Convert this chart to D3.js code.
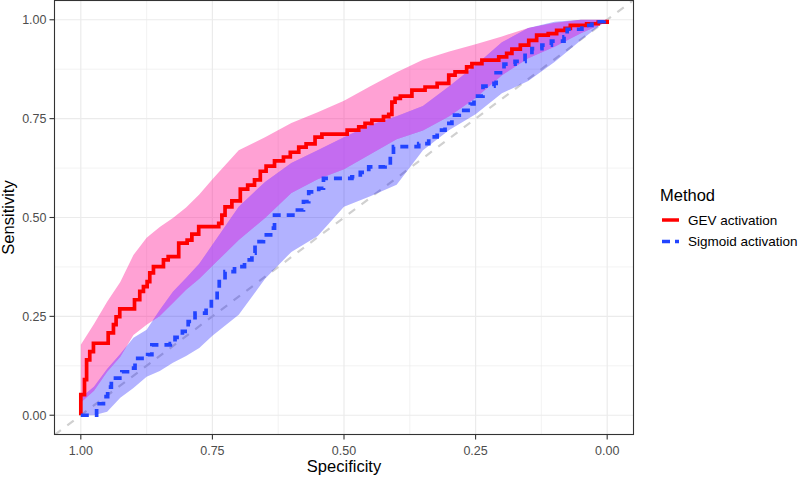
<!DOCTYPE html>
<html><head><meta charset="utf-8">
<script src="https://cdn.jsdelivr.net/npm/d3@7"></script>
<style>body{margin:0;background:#fff}svg{display:block}</style>
</head><body>
<svg id="c" width="808" height="477"></svg>
<script>
// ---------- data ----------
const methods = ["GEV activation", "Sigmoid activation"];
const axisTicks = [0, 0.25, 0.5, 0.75, 1];
const minorTicks = [0.125, 0.375, 0.625, 0.875];

// ROC step curves: [specificity, sensitivity]
const gevRoc = [[1,0],[1,0.052],[0.993,0.090],[0.989,0.140],[0.983,0.161],[0.976,0.182],[0.948,0.208],[0.938,0.229],[0.933,0.249],[0.926,0.269],[0.898,0.292],[0.888,0.313],[0.881,0.325],[0.874,0.338],[0.869,0.360],[0.862,0.376],[0.843,0.393],[0.834,0.401],[0.814,0.435],[0.798,0.443],[0.789,0.458],[0.776,0.477],[0.738,0.485],[0.732,0.506],[0.726,0.527],[0.713,0.542],[0.697,0.572],[0.683,0.582],[0.670,0.595],[0.659,0.617],[0.648,0.630],[0.632,0.643],[0.615,0.653],[0.602,0.665],[0.586,0.678],[0.572,0.686],[0.555,0.703],[0.542,0.711],[0.494,0.721],[0.472,0.729],[0.460,0.738],[0.447,0.746],[0.425,0.755],[0.415,0.761],[0.409,0.792],[0.403,0.801],[0.393,0.807],[0.371,0.822],[0.346,0.830],[0.323,0.839],[0.301,0.860],[0.289,0.868],[0.267,0.881],[0.257,0.889],[0.238,0.898],[0.206,0.906],[0.191,0.915],[0.181,0.926],[0.165,0.936],[0.149,0.948],[0.134,0.961],[0.112,0.965],[0.096,0.973],[0.080,0.978],[0.070,0.986],[0.039,0.990],[0.017,0.994],[0,1]];
const sigRoc = [[1,0],[0.982,0],[0.970,0.029],[0.957,0.047],[0.949,0.071],[0.942,0.094],[0.922,0.110],[0.906,0.119],[0.897,0.144],[0.873,0.153],[0.865,0.178],[0.830,0.181],[0.821,0.197],[0.807,0.212],[0.796,0.237],[0.783,0.258],[0.762,0.271],[0.752,0.292],[0.741,0.313],[0.737,0.338],[0.726,0.363],[0.708,0.376],[0.689,0.393],[0.675,0.410],[0.669,0.439],[0.653,0.456],[0.634,0.473],[0.632,0.506],[0.593,0.519],[0.577,0.540],[0.567,0.565],[0.548,0.574],[0.539,0.599],[0.485,0.603],[0.469,0.614],[0.453,0.628],[0.422,0.633],[0.412,0.649],[0.406,0.679],[0.358,0.687],[0.339,0.704],[0.323,0.721],[0.308,0.738],[0.295,0.759],[0.281,0.771],[0.260,0.787],[0.253,0.807],[0.236,0.832],[0.215,0.839],[0.211,0.866],[0.196,0.888],[0.175,0.895],[0.156,0.910],[0.143,0.927],[0.124,0.936],[0.106,0.946],[0.082,0.957],[0.076,0.976],[0.048,0.986],[0.029,0.995],[0.006,1],[0,1]];

// confidence bands of sensitivity at fixed specificities
const bandSpec = [1,0.975,0.95,0.925,0.9,0.875,0.85,0.825,0.8,0.775,0.75,0.7,0.65,0.6,0.55,0.5,0.45,0.4,0.35,0.3,0.25,0.2,0.15,0.1,0.05,0];
const gevLo = [0.032,0.062,0.110,0.148,0.203,0.229,0.251,0.284,0.317,0.345,0.378,0.443,0.499,0.562,0.597,0.622,0.660,0.698,0.720,0.756,0.802,0.860,0.903,0.932,0.966,0.995];
const gevHi = [0.178,0.231,0.287,0.337,0.405,0.449,0.476,0.499,0.525,0.558,0.597,0.670,0.703,0.739,0.766,0.795,0.832,0.867,0.899,0.920,0.938,0.958,0.979,0.992,1,1];
const sigLo = [0,0,0.009,0.044,0.069,0.097,0.112,0.133,0.150,0.170,0.201,0.254,0.345,0.413,0.453,0.527,0.554,0.583,0.670,0.721,0.761,0.814,0.845,0.893,0.948,1];
const sigHi = [0.044,0.072,0.117,0.155,0.196,0.216,0.266,0.312,0.347,0.383,0.431,0.527,0.590,0.638,0.670,0.703,0.734,0.756,0.782,0.832,0.885,0.943,0.979,0.995,1,1];

// ---------- layout ----------
const FONT = "'Liberation Sans', Arial, Helvetica, sans-serif";
const P = {l:54.5, r:633.5, t:0.5, b:434.5};
const x = d3.scaleLinear().domain([1.05,-0.05]).range([P.l, P.r]);
const y = d3.scaleLinear().domain([-0.05,1.05]).range([P.b+0.5, P.t-0.5]);
const fmt = d3.format(".2f");

const svg = d3.select("#c");
svg.append("rect").attr("width",808).attr("height",477).attr("fill","#fff");
const defs = svg.append("defs");
defs.append("clipPath").attr("id","clip")
  .append("rect").attr("x",P.l).attr("y",P.t).attr("width",P.r-P.l).attr("height",P.b-P.t);

const panel = svg.append("g");
minorTicks.forEach(v=>{
  panel.append("line").attr("x1",x(v)).attr("x2",x(v)).attr("y1",P.t).attr("y2",P.b).attr("stroke","#ebebeb").attr("stroke-width",0.6);
  panel.append("line").attr("y1",y(v)).attr("y2",y(v)).attr("x1",P.l).attr("x2",P.r).attr("stroke","#ebebeb").attr("stroke-width",0.6);
});
axisTicks.forEach(v=>{
  panel.append("line").attr("x1",x(v)).attr("x2",x(v)).attr("y1",P.t).attr("y2",P.b).attr("stroke","#ebebeb").attr("stroke-width",1.2);
  panel.append("line").attr("y1",y(v)).attr("y2",y(v)).attr("x1",P.l).attr("x2",P.r).attr("stroke","#ebebeb").attr("stroke-width",1.2);
});

const plot = svg.append("g").attr("clip-path","url(#clip)");
plot.append("line").attr("x1",x(1.05)).attr("y1",y(-0.05)).attr("x2",x(-0.05)).attr("y2",y(1.05))
  .attr("stroke","#d0d0d0").attr("stroke-width",2.2).attr("stroke-dasharray","8,8");

// bands
const gevBand = bandSpec.map((s,i)=>({s, lo:gevLo[i], hi:gevHi[i]}));
const sigBand = bandSpec.map((s,i)=>({s, lo:sigLo[i], hi:sigHi[i]}));
const area = d3.area().x(d=>x(d.s)).y0(d=>y(d.lo)).y1(d=>y(d.hi));
defs.append("clipPath").attr("id","sigclip").append("path").attr("d",area(sigBand));
plot.append("path").attr("d",area(gevBand)).attr("fill","#ff1493").attr("fill-opacity",0.4);
plot.append("path").attr("d",area(sigBand)).attr("fill","#0000ff").attr("fill-opacity",0.3);
// overlap tint
plot.append("g").attr("clip-path","url(#sigclip)")
  .append("path").attr("d",area(gevBand)).attr("fill","rgb(214,103,255)").attr("fill-opacity",0.5);

// ROC lines
const line = d3.line().x(d=>x(d[0])).y(d=>y(d[1])).curve(d3.curveStepAfter);
plot.append("path").attr("d",line(gevRoc)).attr("fill","none").attr("stroke","#ff0000").attr("stroke-width",3.7);
plot.append("path").attr("d",line(sigRoc)).attr("fill","none").attr("stroke","#2244ff").attr("stroke-width",3.7).attr("stroke-dasharray","8,6");

svg.append("rect").attr("x",P.l).attr("y",P.t).attr("width",P.r-P.l).attr("height",P.b-P.t)
  .attr("fill","none").attr("stroke","#333333").attr("stroke-width",1.1);

axisTicks.forEach(v=>{
  svg.append("line").attr("x1",x(v)).attr("x2",x(v)).attr("y1",P.b).attr("y2",P.b+5).attr("stroke","#333333").attr("stroke-width",1.1);
  svg.append("text").attr("x",x(v)).attr("y",P.b+20).attr("text-anchor","middle")
    .attr("font-family",FONT).attr("font-size",12.5).attr("fill","#4d4d4d").text(fmt(v));
  svg.append("line").attr("y1",y(v)).attr("y2",y(v)).attr("x1",P.l-5).attr("x2",P.l).attr("stroke","#333333").attr("stroke-width",1.1);
  svg.append("text").attr("x",P.l-8).attr("y",y(v)+4.5).attr("text-anchor","end")
    .attr("font-family",FONT).attr("font-size",12.5).attr("fill","#4d4d4d").text(fmt(v));
});
svg.append("text").attr("x",(P.l+P.r)/2).attr("y",472).attr("text-anchor","middle")
  .attr("font-family",FONT).attr("font-size",16.5).attr("fill","#000").text("Specificity");
svg.append("text").attr("transform",`translate(14,${(P.t+P.b)/2}) rotate(-90)`).attr("text-anchor","middle")
  .attr("font-family",FONT).attr("font-size",16.5).attr("fill","#000").text("Sensitivity");

const lg = svg.append("g");
lg.append("text").attr("x",660).attr("y",200.5).attr("font-family",FONT).attr("font-size",16.5).attr("fill","#000").text("Method");
const keyY = [220, 241.5];
const keyStyle = [{c:"#ff0000",d:null},{c:"#2244ff",d:"8,5"}];
methods.forEach((m,i)=>{
  const l = lg.append("line").attr("x1",662).attr("x2",679).attr("y1",keyY[i]).attr("y2",keyY[i])
    .attr("stroke",keyStyle[i].c).attr("stroke-width",3.5);
  if(keyStyle[i].d) l.attr("stroke-dasharray",keyStyle[i].d);
  lg.append("text").attr("x",688).attr("y",keyY[i]+4.7).attr("font-family",FONT).attr("font-size",13.5).attr("fill","#000").text(m);
});
</script>
</body></html>
